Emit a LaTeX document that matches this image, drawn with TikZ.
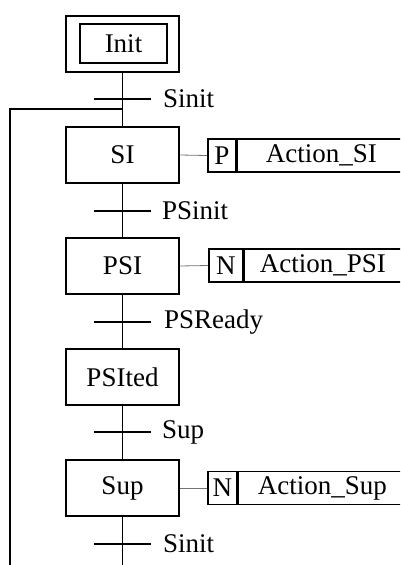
\documentclass[tikz,border=0pt]{standalone}
\usepackage{fontspec}
\setmainfont{Liberation Serif}
\begin{document}
\begin{tikzpicture}[x=1pt,y=-1pt,
  every node/.style={font=\fontsize{27}{30}\selectfont, inner sep=0pt},
  stepbox/.style={draw, line width=1.8pt, minimum width=113pt, minimum height=56pt},
  initin/.style={draw, line width=1.8pt, minimum width=87pt, minimum height=39pt},
  tbar/.style={fill=black, minimum width=57pt, minimum height=2pt},
  tlabel/.style={anchor=west},
  qualbox/.style={draw, line width=1.6pt, minimum height=33pt, anchor=west},
  actbox/.style={draw, line width=1.6pt, minimum height=33pt, minimum width=168pt, anchor=west},
  flow/.style={line width=1.1pt},
  link/.style={line width=0.8pt, black!55}]
\useasboundingbox (0,0) rectangle (400,565);
\clip (0,0) rectangle (400,565);

% steps
\node[stepbox] (init) at (122.5,44) {};
\node[initin] (initi) at (123.5,43.5) {Init};
\node[stepbox] (si) at (122.5,155) {SI};
\node[stepbox] (psi) at (122.5,266) {PSI};
\node[stepbox] (psited) at (122.5,377) {PSIted};
\node[stepbox] (sup) at (122.5,488) {Sup};

% transitions
\node[tbar] (t1) at (122.5,99) {};
\node[tbar] (t2) at (122.5,211) {};
\node[tbar] (t3) at (122.5,322) {};
\node[tbar] (t4) at (122.5,432) {};
\node[tbar] (t5) at (122.5,544) {};
\node[tlabel] (l1) at (163,99) {Sinit};
\node[tlabel] (l2) at (162,211) {PSinit};
\node[tlabel] (l3) at (164,322) {PSReady};
\node[tlabel] (l4) at (162,432) {Sup};
\node[tlabel] (l5) at (163,544) {Sinit};

% actions
\node[qualbox, minimum width=28pt] (q1) at (207,155.5) {P};
\node[actbox] (a1) at (q1.east) {Action\_SI};
\node[qualbox, minimum width=34pt] (q2) at (208,265.5) {N};
\node[actbox, minimum width=157pt] (a2) at (q2.east) {Action\_PSI};
\node[qualbox, minimum width=29pt] (q3) at (207,488) {N};
\node[actbox] (a3) at (q3.east) {Action\_Sup};

\draw[link] (si.east) -- (q1.west);
\draw[link] (psi.east) -- (q2.west);
\draw[link] (sup.east) -- (q3.west);

% main flow
\coordinate (j1) at (122.5,109);
\coordinate (lpt) at (10,109);
\coordinate (lpb) at (10,566);
\coordinate (bot) at (122.5,566);
\draw[flow] (init.south) -- (t1.center) -- (si.north);
\draw[flow] (si.south) -- (t2.center) -- (psi.north);
\draw[flow] (psi.south) -- (t3.center) -- (psited.north);
\draw[flow] (psited.south) -- (t4.center) -- (sup.north);
\draw[flow] (sup.south) -- (t5.center) -- (bot);
\draw[flow, line width=1.4pt] (lpb) -- (lpt) -- (j1);
\end{tikzpicture}
\end{document}
